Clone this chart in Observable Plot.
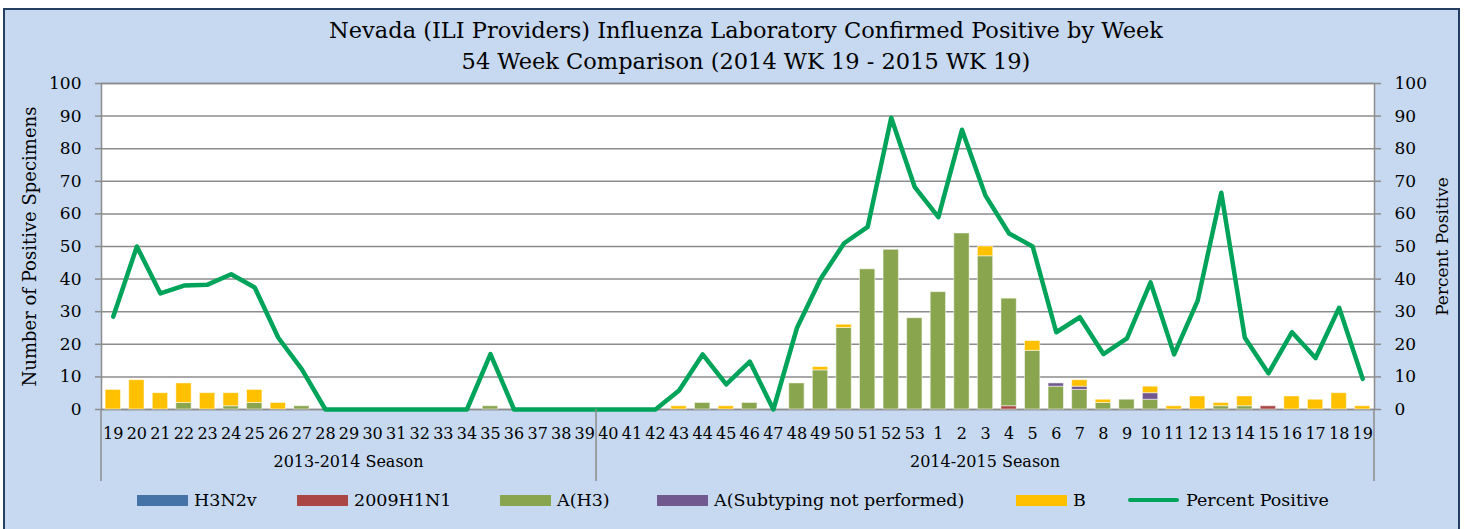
<!DOCTYPE html>
<html><head><meta charset="utf-8">
<script src="https://cdn.jsdelivr.net/npm/d3@7"></script>
<script src="https://cdn.jsdelivr.net/npm/@observablehq/plot@0.6"></script>
<style>
body{margin:0;background:#fff;width:1465px;height:529px;overflow:hidden;font-family:"DejaVu Serif",serif;color:#000;}
#frame{position:absolute;left:3px;top:8px;width:1457px;height:530px;background:#C6D9F1;border:2px solid #243F60;box-sizing:border-box;}
#title{position:absolute;left:0;top:15px;width:1492px;text-align:center;font-size:22.5px;line-height:31px;}
#chart{position:absolute;left:0;top:72px;}
#legend{position:absolute;left:0;top:489px;width:1465px;height:22px;}
.item{position:absolute;top:0;height:22px;display:flex;align-items:center;font-size:17.5px;white-space:nowrap;}
.sw{width:51px;height:11px;margin-right:6px;}
.ln{width:51px;height:4px;border-radius:2px;margin-right:7px;}
</style></head>
<body>
<div id="frame"></div>
<div id="title">Nevada (ILI Providers) Influenza Laboratory Confirmed Positive by Week<br>54 Week Comparison (2014 WK 19 - 2015 WK 19)</div>
<div id="chart"></div>
<div id="legend"></div>
<script>
// Week labels: 2014 wk 19..53 then 2015 wk 1..19
const weeks = [19,20,21,22,23,24,25,26,27,28,29,30,31,32,33,34,35,36,37,38,39,40,41,42,43,44,45,46,47,48,49,50,51,52,53,
               1,2,3,4,5,6,7,8,9,10,11,12,13,14,15,16,17,18,19];
const seasons = [
  {label: "2013-2014 Season", start: 0, end: 21},
  {label: "2014-2015 Season", start: 21, end: 54}
];
const seriesNames = ["H3N2v", "2009H1N1", "A(H3)", "A(Subtyping not performed)", "B"];
const seriesColors = ["#4572A7", "#AA4643", "#89A54E", "#71588F", "#FFC000"];
const lineName = "Percent Positive";
const lineColor = "#00A35A";
const leftTitle = "Number of Positive Specimens";

const h3n2v = new Array(54).fill(0);
const h1n1 = [0,0,0,0,0,0,0,0,0,0,0,0,0,0,0,0,0,0,0,0,0,0,0,0,0,0,0,0,0,0,0,0,0,0,0,
              0,0,0,1,0,0,0,0,0,0,0,0,0,0,1,0,0,0,0];
const ah3 = [0,0,0,2,0,1,2,0,1,0,0,0,0,0,0,0,1,0,0,0,0,0,0,0,0,2,0,2,0,8,12,25,43,49,28,
             36,54,47,33,18,7,6,2,3,3,0,0,1,1,0,0,0,0,0];
const asub = [0,0,0,0,0,0,0,0,0,0,0,0,0,0,0,0,0,0,0,0,0,0,0,0,0,0,0,0,0,0,0,0,0,0,0,
              0,0,0,0,0,1,1,0,0,2,0,0,0,0,0,0,0,0,0];
const bflu = [6,9,5,6,5,4,4,2,0,0,0,0,0,0,0,0,0,0,0,0,0,0,0,0,1,0,1,0,0,0,1,1,0,0,0,
              0,0,3,0,3,0,2,1,0,2,1,4,1,3,0,4,3,5,1];
const pctPositive = [28.5,50,35.6,38,38.3,41.5,37.4,22,12.3,0,0,0,0,0,0,0,17,0,0,0,0,0,0,0,5.8,16.9,7.7,14.7,0,25,40,51,56,89.5,68.2,
                     59,85.8,65.6,54,50,23.7,28.3,17,21.8,39,16.9,33.4,66.5,22,11.1,23.7,15.8,31.2,9.4];
const yTicks = [0,10,20,30,40,50,60,70,80,90,100];

const seriesValues = [h3n2v, h1n1, ah3, asub, bflu];
const rows = [];
weeks.forEach((w, i) => {
  seriesValues.forEach((arr, s) => {
    if (arr[i] > 0) rows.push({i, series: seriesNames[s], value: arr[i]});
  });
});
const pctRows = pctPositive.map((p, i) => ({i, pct: p}));
const idx = weeks.map((w, i) => i);

const plot = Plot.plot({
  width: 1465,
  height: 413,
  marginTop: 11,
  marginBottom: 76,
  marginLeft: 101,
  marginRight: 91,
  style: {fontFamily: "DejaVu Serif", fontSize: "16px", color: "#000", background: "transparent", overflow: "visible"},
  x: {type: "band", domain: idx, paddingInner: 0.35, paddingOuter: 0.175},
  y: {domain: [0, 100]},
  color: {domain: seriesNames, range: seriesColors},
  marks: [
    Plot.frame({fill: "white", stroke: null}),
    Plot.gridY(yTicks, {stroke: "#8c8c8c", strokeOpacity: 1, strokeWidth: 1.5}),
    Plot.frame({stroke: "#8c8c8c", strokeWidth: 1.5}),
    Plot.barY(rows, {x: "i", y: "value", fill: "series", stroke: "white", strokeOpacity: 0.5, strokeWidth: 1}),
    Plot.line(pctRows, {x: "i", y: "pct", stroke: lineColor, strokeWidth: 4.5, strokeLinejoin: "round", strokeLinecap: "round"}),
    Plot.axisX(idx, {tickFormat: i => weeks[i], tickSize: 0, tickPadding: 18, fontSize: 16, label: null}),
    Plot.axisY(yTicks, {anchor: "left", tickSize: 6, tickPadding: 14, fontSize: 17, stroke: "#8c8c8c", strokeWidth: 1.5, label: null}),
    Plot.axisY(yTicks, {anchor: "right", tickSize: 6, tickPadding: 14, fontSize: 17, stroke: "#8c8c8c", strokeWidth: 1.5, label: null}),
    Plot.text([leftTitle], {frameAnchor: "left", text: d => d, rotate: -90, dx: -71, fontSize: 18, textAnchor: "middle"}),
    Plot.text([lineName], {frameAnchor: "right", text: d => d, rotate: -90, dx: 68, fontSize: 17, textAnchor: "middle"})
  ]
});
document.getElementById("chart").appendChild(plot);

// Season group labels and separators from the x scale
const sx = plot.scale("x");
const half = (sx.step - sx.bandwidth) / 2;
const edge = k => k >= weeks.length ? sx.apply(weeks.length - 1) - half + sx.step : sx.apply(k) - half;
const yBase = plot.scale("y").apply(0);
const g = d3.select(plot).append("g");
const bounds = [0, 21, 54];
g.selectAll("line").data(bounds).join("line")
  .attr("x1", d => edge(d)).attr("x2", d => edge(d))
  .attr("y1", yBase).attr("y2", yBase + 72)
  .attr("stroke", "#8c8c8c").attr("stroke-width", 1.5);
g.selectAll("text").data(seasons).join("text")
  .attr("x", d => (edge(d.start) + edge(d.end)) / 2)
  .attr("y", yBase + 58)
  .attr("text-anchor", "middle")
  .attr("font-size", 16)
  .attr("fill", "#000")
  .text(d => d.label);

// Legend
const legendLefts = [137, 297, 500, 657, 1016, 1128];
const legend = document.getElementById("legend");
seriesNames.forEach((name, s) => {
  const it = document.createElement("div");
  it.className = "item";
  it.style.left = legendLefts[s] + "px";
  it.innerHTML = `<div class="sw" style="background:${seriesColors[s]}"></div><span>${name}</span>`;
  legend.appendChild(it);
});
const li = document.createElement("div");
li.className = "item";
li.style.left = legendLefts[5] + "px";
li.innerHTML = `<div class="ln" style="background:${lineColor}"></div><span>${lineName}</span>`;
legend.appendChild(li);
</script>
</body></html>
